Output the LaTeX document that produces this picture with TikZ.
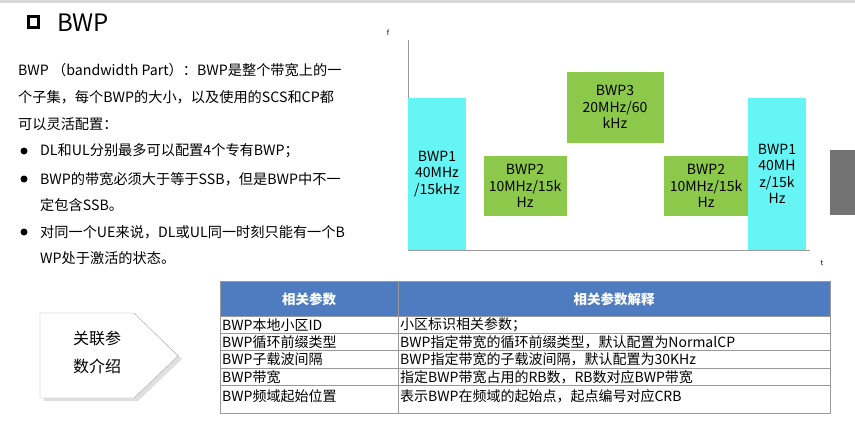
\documentclass[tikz,border=0pt]{standalone}
\usepackage{fontspec}
\setmainfont{Noto Sans CJK SC}
\usetikzlibrary{shapes.arrows}
\definecolor{cy}{HTML}{66F5F5}
\definecolor{gr}{HTML}{8CC84A}
\definecolor{hd}{HTML}{4F7CC0}
\tikzset{
 txt/.style={anchor=west,inner sep=0pt,font=\fontsize{14.2}{16}\selectfont},
 bw/.style={draw=none,align=center,inner sep=0pt,font=\fontsize{14}{16.5}\selectfont},
 cell/.style={anchor=west,inner sep=0pt,font=\fontsize{14}{15}\selectfont},
 hcell/.style={inner sep=0pt,text=white,font=\bfseries\fontsize{13.5}{15}\selectfont}
}
\begin{document}
\begin{tikzpicture}[x=1pt,y=-1pt]
\useasboundingbox[fill=white] (0,0) rectangle (855,421);
\fill[black!15] (0,0) rectangle (855,3);
% title
\draw[line width=3pt] (28.5,16.5) rectangle (38.5,27.5);
\node[txt,font=\fontsize{24}{26}\selectfont] (title) at (57,23) {BWP};
% paragraph
\node[txt] (p1) at (18,70) {BWP （bandwidth Part）：BWP是整个带宽上的一};
\node[txt] (p2) at (18,97) {个子集，每个BWP的大小，以及使用的SCS和CP都};
\node[txt] (p3) at (18,124) {可以灵活配置：};
\node[txt] (p4) at (40,151) {DL和UL分别最多可以配置4个专有BWP；};
\node[txt] (p5) at (40,179) {BWP的带宽必须大于等于SSB，但是BWP中不一};
\node[txt] (p6) at (40,205) {定包含SSB。};
\node[txt] (p7) at (40,232) {对同一个UE来说，DL或UL同一时刻只能有一个B};
\node[txt] (p8) at (40,258) {WP处于激活的状态。};
\foreach \y in {151,179,232} \fill (24,\y) circle (3.5);
% chart
\draw[black!40] (408,40) -- (408,250) -- (810,250);
\node[font=\fontsize{7}{8}\selectfont] (f) at (388,33) {f};
\node[font=\fontsize{7}{8}\selectfont] (t) at (822,263) {t};
\fill[cy] (408,98) rectangle (466,250);
\node[bw] (b1) at (437,174) {BWP1\\40MHz\\/15kHz};
\fill[gr] (484,156) rectangle (567,216);
\node[bw] (b2) at (525,186) {BWP2\\10MHz/15k\\Hz};
\fill[gr] (567,72) rectangle (664,143);
\node[bw] (b3) at (615,107) {BWP3\\20MHz/60\\kHz};
\fill[gr] (664,156) rectangle (748,216);
\node[bw] (b4) at (706,186) {BWP2\\10MHz/15k\\Hz};
\fill[cy] (748,98) rectangle (806,250);
\node[bw] (b5) at (777,174) {BWP1\\40MH\\z/15k\\Hz};
% side tab
\fill[black!55] (830,150) rectangle (855,215);
% arrow box
\fill[black!12] (44,317) -- (138,317) -- (182,359) -- (138,401) -- (44,401) -- cycle;
\draw[black!35,fill=white] (40,313) -- (134,313) -- (178,356) -- (134,398) -- (40,398) -- cycle;
\node[bw,font=\fontsize{16}{28}\selectfont] (arr) at (97,352) {关联参\\数介绍};
% table
\fill[hd] (220,281) rectangle (830,316);
\node[hcell] (h1) at (309,299) {相关参数};
\node[hcell] (h2) at (614,299) {相关参数解释};
\draw[black!40] (220,281) rectangle (830,413);
\draw[black!40] (398,281) -- (398,413);
\foreach \y in {316,333,350,368,385} \draw[black!40] (220,\y) -- (830,\y);
\node[cell] (r1a) at (222,325) {BWP本地小区ID};
\node[cell] (r1b) at (400,325) {小区标识相关参数；};
\node[cell] (r2a) at (222,342) {BWP循环前缀类型};
\node[cell] (r2b) at (400,342) {BWP指定带宽的循环前缀类型，默认配置为NormalCP};
\node[cell] (r3a) at (222,359) {BWP子载波间隔};
\node[cell] (r3b) at (400,359) {BWP指定带宽的子载波间隔，默认配置为30KHz};
\node[cell] (r4a) at (222,377) {BWP带宽};
\node[cell] (r4b) at (400,377) {指定BWP带宽占用的RB数，RB数对应BWP带宽};
\node[cell] (r5a) at (222,396) {BWP频域起始位置};
\node[cell] (r5b) at (400,396) {表示BWP在频域的起始点，起点编号对应CRB};
\end{tikzpicture}
\end{document}
